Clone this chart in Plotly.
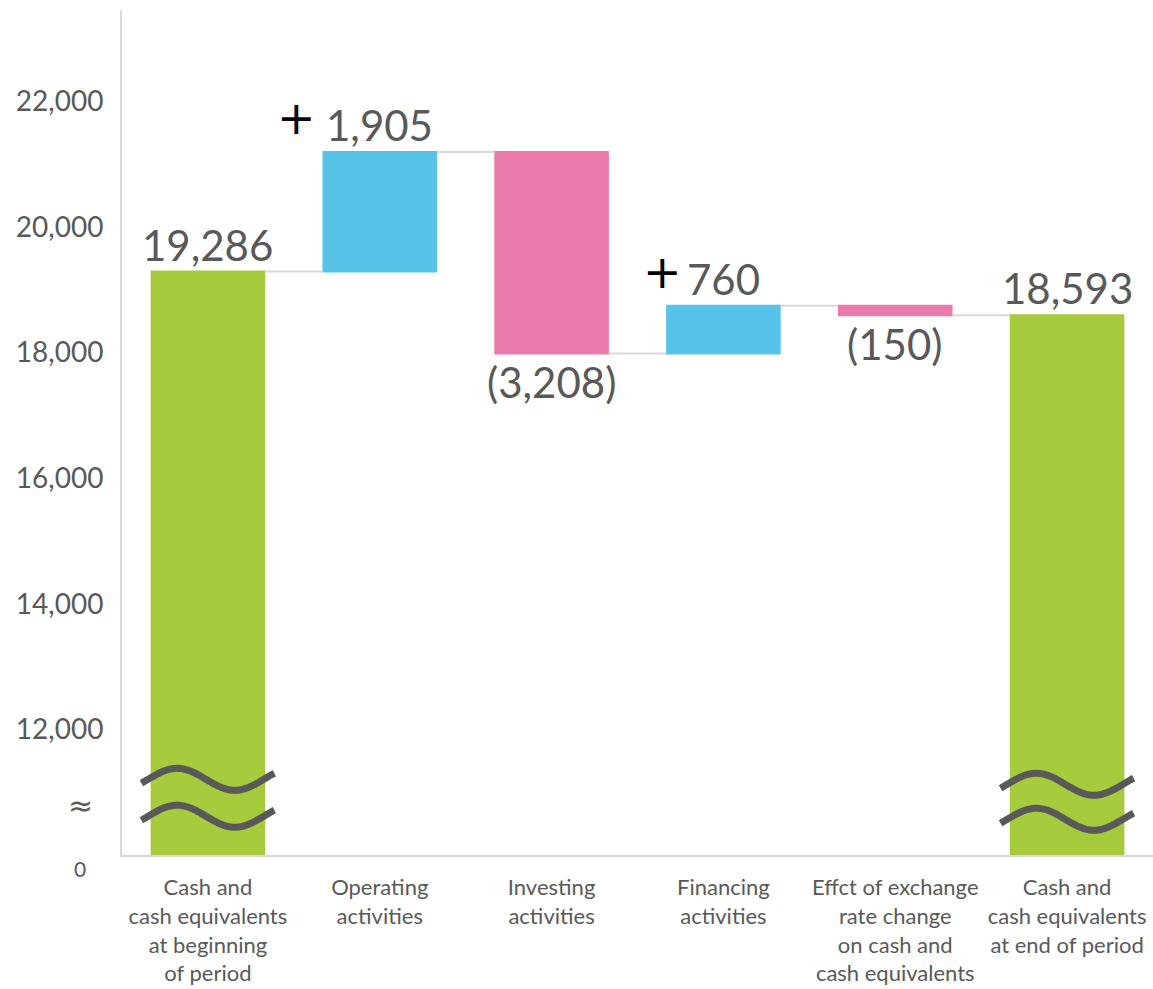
import numpy as np
import plotly.graph_objects as go

# ---------------- data ----------------
categories = [
    "Cash and<br>cash equivalents<br>at beginning<br>of period",
    "Operating<br>activities",
    "Investing<br>activities",
    "Financing<br>activities",
    "Effct of exchange<br>rate change<br>on cash and<br>cash equivalents",
    "Cash and<br>cash equivalents<br>at end of period",
]
start_value = 19286
changes = [1905, -3208, 760, -150]
end_value = 18593
measures = ["absolute", "relative", "relative", "relative", "relative", "total"]
y_tick_values = [12000, 14000, 16000, 18000, 20000, 22000]
y_tick_labels = ["12,000", "14,000", "16,000", "18,000", "20,000", "22,000"]

# ---------------- style ----------------
FONT = "Lato"
GRAY_TXT = "#595959"
AXIS_GRAY = "#D9D9D9"
GREEN = "#A6CB3D"
BLUE = "#58C3E9"
PINK = "#EC79AC"
Y_MIN, Y_MAX = 10000, 23450
plus_shift = {1: -83, 3: -61}   # px offsets of the black "+" signs

x_pos = list(range(len(categories)))
y_vals = [start_value] + changes + [end_value]

fig = go.Figure()
fig.add_trace(go.Waterfall(
    x=x_pos, y=y_vals, measure=measures, base=0,
    increasing=dict(marker=dict(color=BLUE, line=dict(width=0))),
    decreasing=dict(marker=dict(color=PINK, line=dict(width=0))),
    totals=dict(marker=dict(color=GREEN, line=dict(width=0))),
    connector=dict(mode="between", line=dict(color=AXIS_GRAY, width=2)),
    textinfo="none", hoverinfo="skip", showlegend=False,
))

# value labels
levels = [start_value]
for c in changes:
    levels.append(levels[-1] + c)
levels.append(end_value)

def fmt(v):
    s = f"{abs(v):,}"
    return f"({s})" if v < 0 else s

annotations = []
for i, v in enumerate(y_vals):
    if measures[i] == "relative" and v < 0:
        annotations.append(dict(x=i, y=levels[i], xref="x", yref="y", text=fmt(v),
                                showarrow=False, yanchor="top", yshift=-2,
                                font=dict(family=FONT, size=42, color=GRAY_TXT)))
    else:
        annotations.append(dict(x=i, y=levels[i], xref="x", yref="y", text=fmt(v),
                                showarrow=False, yanchor="bottom", yshift=0,
                                font=dict(family=FONT, size=42, color=GRAY_TXT)))
        if measures[i] == "relative":
            annotations.append(dict(x=i, y=levels[i], xref="x", yref="y", text="+",
                                    showarrow=False, xanchor="center", yanchor="middle",
                                    xshift=plus_shift[i], yshift=34,
                                    font=dict(family="DejaVu Sans", size=46, color="#000000")))

# axis break markers
annotations.append(dict(x=0, y=Y_MIN, xref="paper", yref="y", text="0", showarrow=False,
                        xanchor="center", yanchor="middle", xshift=-42, yshift=-13,
                        font=dict(family=FONT, size=21, color=GRAY_TXT)))
annotations.append(dict(x=0, y=Y_MIN, xref="paper", yref="y", text="≈", showarrow=False,
                        xanchor="center", yanchor="middle", xshift=-42, yshift=50,
                        font=dict(family="DejaVu Sans", size=30, color=GRAY_TXT)))

# wavy break lines over the two green bars
wave_sets = {0: [11205, 10617], 5: [11126, 10569]}
phase = np.linspace(-0.37, 2 * np.pi + 0.58, 80)
xs_rel = np.linspace(-0.387, 0.387, 80)
for bar_idx, centers in wave_sets.items():
    for cval in centers:
        fig.add_trace(go.Scatter(
            x=bar_idx + xs_rel, y=cval + 175 * np.sin(phase),
            mode="lines", line=dict(color="#595959", width=7, shape="spline"),
            hoverinfo="skip", showlegend=False))

fig.update_layout(
    width=1153, height=989,
    margin=dict(l=122, r=0, t=10, b=134),
    paper_bgcolor="white", plot_bgcolor="white",
    waterfallgap=0.333,
    annotations=annotations,
    font=dict(family=FONT, color=GRAY_TXT),
)
fig.update_xaxes(
    range=[-0.5, 5.5], tickvals=x_pos, ticktext=categories,
    showline=True, linecolor=AXIS_GRAY, linewidth=2, showgrid=False, zeroline=False,
    tickfont=dict(family=FONT, size=22, color=GRAY_TXT), ticks="", ticklabelstandoff=12,
)
fig.update_yaxes(
    range=[Y_MIN, Y_MAX], tickvals=y_tick_values, ticktext=y_tick_labels,
    showline=True, linecolor=AXIS_GRAY, linewidth=2, showgrid=False, zeroline=False,
    tickfont=dict(family=FONT, size=28, color=GRAY_TXT), ticks="", ticklabelstandoff=11,
)

fig.write_html("out.html")
